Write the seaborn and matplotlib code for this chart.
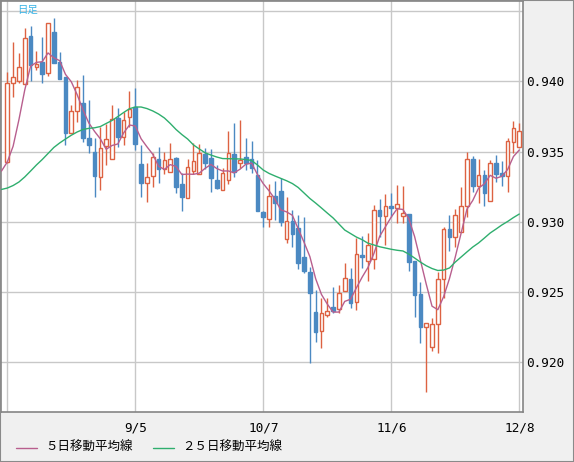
import numpy as np
import pandas as pd
import matplotlib
matplotlib.use("Agg")
import matplotlib.pyplot as plt
import seaborn as sns
from matplotlib.lines import Line2D
from matplotlib.patches import Rectangle

# ---------------- data ----------------
opens = [0.93428, 0.93986, 0.94004, 0.93981, 0.94323, 0.94104, 0.94135, 0.94057, 0.94349, 0.94135,
         0.94033, 0.93632, 0.93791, 0.93843, 0.93598, 0.93499, 0.93321, 0.93542, 0.93449, 0.93737,
         0.93606, 0.93744, 0.93815, 0.93411, 0.93274, 0.93326, 0.93445, 0.93374, 0.93352, 0.93452,
         0.93269, 0.93171, 0.93364, 0.93338, 0.93485, 0.93454, 0.93297, 0.93223, 0.93297, 0.93482,
         0.93415, 0.93459, 0.93445, 0.93333, 0.93072, 0.93017, 0.93183, 0.93221, 0.92875, 0.93007,
         0.92954, 0.92747, 0.92642, 0.92355, 0.92222, 0.92334, 0.92393, 0.92381, 0.92509, 0.92590,
         0.92426, 0.92760, 0.92723, 0.92733, 0.93084, 0.93043, 0.93112, 0.93096, 0.93041, 0.93055,
         0.92723, 0.92485, 0.92253, 0.92106, 0.92270, 0.92590, 0.92947, 0.92894, 0.92929, 0.93114,
         0.93447, 0.93257, 0.93333, 0.93150, 0.93421, 0.93349, 0.93328, 0.93570, 0.93534]
highs = [0.94068, 0.94278, 0.94199, 0.94377, 0.94396, 0.94218, 0.94313, 0.94415, 0.94449, 0.94211,
         0.94033, 0.93831, 0.94009, 0.94045, 0.93867, 0.93596, 0.93677, 0.93696, 0.93831, 0.93808,
         0.93782, 0.93931, 0.93950, 0.93547, 0.93416, 0.93487, 0.93535, 0.93499, 0.93563, 0.93463,
         0.93347, 0.93445, 0.93559, 0.93554, 0.93523, 0.93518, 0.93404, 0.93383, 0.93646, 0.93705,
         0.93724, 0.93596, 0.93578, 0.93440, 0.93076, 0.93269, 0.93292, 0.93309, 0.93174, 0.93084,
         0.93048, 0.93036, 0.92680, 0.92514, 0.92455, 0.92455, 0.92538, 0.92550, 0.92704, 0.92669,
         0.92886, 0.92899, 0.92922, 0.93119, 0.93160, 0.93198, 0.93203, 0.93262, 0.93255, 0.93055,
         0.92723, 0.92573, 0.92277, 0.92312, 0.92644, 0.92961, 0.93048, 0.93091, 0.93245, 0.93499,
         0.93468, 0.93445, 0.93369, 0.93440, 0.93478, 0.93433, 0.93594, 0.93719, 0.93705]
lows = [0.93420, 0.93890, 0.93986, 0.93981, 0.94004, 0.94080, 0.93990, 0.94040, 0.94132, 0.94016,
        0.93547, 0.93632, 0.93712, 0.93570, 0.93492, 0.93178, 0.93226, 0.93404, 0.93449, 0.93534,
        0.93547, 0.93677, 0.93511, 0.93174, 0.93143, 0.93250, 0.93274, 0.93338, 0.93352, 0.93202,
        0.93078, 0.93171, 0.93338, 0.93338, 0.93376, 0.93215, 0.93231, 0.93223, 0.93269, 0.93316,
        0.93383, 0.93372, 0.93345, 0.93079, 0.92961, 0.92961, 0.93012, 0.92970, 0.92851, 0.92822,
        0.92662, 0.92633, 0.91994, 0.92146, 0.92099, 0.92322, 0.92353, 0.92348, 0.92509, 0.92388,
        0.92372, 0.92671, 0.92580, 0.92664, 0.92894, 0.92834, 0.93036, 0.92989, 0.92993, 0.92652,
        0.92324, 0.92139, 0.91789, 0.92082, 0.92067, 0.92455, 0.92795, 0.92822, 0.92929, 0.93032,
        0.93210, 0.93136, 0.93114, 0.93150, 0.93285, 0.93257, 0.93210, 0.93487, 0.93534]
closes = [0.93986, 0.94029, 0.94100, 0.94306, 0.94116, 0.94123, 0.94052, 0.94413, 0.94132, 0.94016,
          0.93634, 0.93789, 0.93957, 0.93594, 0.93547, 0.93329, 0.93523, 0.93587, 0.93729, 0.93601,
          0.93724, 0.93803, 0.93552, 0.93274, 0.93316, 0.93459, 0.93374, 0.93440, 0.93445, 0.93250,
          0.93173, 0.93388, 0.93433, 0.93487, 0.93421, 0.93311, 0.93243, 0.93346, 0.93487, 0.93355,
          0.93440, 0.93421, 0.93383, 0.93079, 0.93032, 0.93183, 0.93131, 0.92999, 0.93007, 0.92910,
          0.92704, 0.92652, 0.92490, 0.92217, 0.92348, 0.92362, 0.92367, 0.92491, 0.92597, 0.92424,
          0.92768, 0.92751, 0.92835, 0.93084, 0.93043, 0.93112, 0.93096, 0.93127, 0.93060, 0.92716,
          0.92479, 0.92253, 0.92277, 0.92270, 0.92590, 0.92947, 0.92894, 0.93046, 0.93114, 0.93445,
          0.93257, 0.93333, 0.93202, 0.93416, 0.93340, 0.93328, 0.93575, 0.93665, 0.93646]

# 5-day MA values at the left edge (index -1..3), where earlier closes are off-chart
ma5_lead = [0.93361, 0.93426, 0.93538, 0.93727, 0.93938]
# 25-day MA, index -1..88
ma25_values = [0.93230, 0.93240, 0.93258, 0.93283, 0.93319, 0.93361, 0.93404, 0.93443, 0.93486, 0.93529,
               0.93561, 0.93589, 0.93616, 0.93639, 0.93657, 0.93665, 0.93669, 0.93678, 0.93700, 0.93721,
               0.93749, 0.93778, 0.93805, 0.93817, 0.93817, 0.93806, 0.93789, 0.93767, 0.93739, 0.93700,
               0.93657, 0.93621, 0.93589, 0.93547, 0.93518, 0.93491, 0.93475, 0.93461, 0.93450, 0.93449,
               0.93448, 0.93447, 0.93443, 0.93436, 0.93404, 0.93368, 0.93344, 0.93326, 0.93309, 0.93292,
               0.93272, 0.93244, 0.93205, 0.93166, 0.93133, 0.93098, 0.93062, 0.93027, 0.92984, 0.92941,
               0.92916, 0.92891, 0.92872, 0.92847, 0.92835, 0.92822, 0.92813, 0.92804, 0.92797, 0.92792,
               0.92770, 0.92742, 0.92713, 0.92687, 0.92667, 0.92653, 0.92656, 0.92671, 0.92713, 0.92749,
               0.92785, 0.92820, 0.92849, 0.92884, 0.92920, 0.92948, 0.92977, 0.93002, 0.93030, 0.93055]

x_tick_pos = [0, 22, 44, 66, 88]
x_tick_labels = ["", "9/5", "10/7", "11/6", "12/8"]
y_ticks = [0.920, 0.925, 0.930, 0.935, 0.940, 0.945]
y_tick_labels = ["0.920", "0.925", "0.930", "0.935", "0.940", ""]
legend_labels = ["５日移動平均線", "２５日移動平均線"]
title_label = "日足"

# ---------------- styling ----------------
UP = "#dd6242"
DOWN = "#4b89c2"
MA5_C = "#b85f8e"
MA25_C = "#2fae6e"
GRID_C = "#c8c8c8"

sns.set_style("white")
plt.rcParams["font.family"] = ["DejaVu Sans Mono", "Noto Sans CJK JP"]

W, H = 574, 462
fig = plt.figure(figsize=(W / 100, H / 100), dpi=100, facecolor="#f0f0f0")
ax = fig.add_axes([1 / W, (H - 412) / H, 522 / W, 411 / H])
ax.set_facecolor("white")

n = len(closes)
idx = np.arange(n)
df = pd.DataFrame({"i": idx, "open": opens, "high": highs, "low": lows, "close": closes})

# moving averages
ma5 = df["close"].rolling(5).mean().to_numpy()
ma5[:4] = ma5_lead[1:]
ma_idx = np.arange(-1, n)
ma5_full = np.concatenate([[ma5_lead[0]], ma5])
ma_df = pd.DataFrame({"i": ma_idx, "ma5": ma5_full, "ma25": ma25_values})

# wicks
up = df["close"] >= df["open"]
wick_colors = [UP if u else DOWN for u in up]
ax.vlines(df["i"], df["low"], df["high"], colors=wick_colors, linewidth=1.0, zorder=2)

# bodies
body_bottom = np.minimum(df["open"], df["close"])
body_h = np.maximum(np.abs(df["close"] - df["open"]), 0.00003)
face = ["white" if u else DOWN for u in up]
ax.bar(df["i"], body_h, bottom=body_bottom, width=0.62, color=face,
       edgecolor=wick_colors, linewidth=1.0, zorder=3)

# MA lines
sns.lineplot(data=ma_df, x="i", y="ma5", ax=ax, color=MA5_C, linewidth=1.0, zorder=4, legend=False)
sns.lineplot(data=ma_df, x="i", y="ma25", ax=ax, color=MA25_C, linewidth=1.0, zorder=4, legend=False)

# axes
ax.set_xlim((1 - 7.3) / 5.818, (523 - 7.3) / 5.818)
ax.set_ylim(0.945789 - 0.0000712 * 412, 0.945789 - 0.0000712 * 1)
ax.set_xticks(x_tick_pos)
ax.set_xticklabels(x_tick_labels)
ax.set_yticks(y_ticks)
ax.set_yticklabels(y_tick_labels)
ax.yaxis.tick_right()
ax.tick_params(axis="y", length=0, pad=2.2, labelsize=9.2, colors="black")
ax.tick_params(axis="x", length=0, pad=6.5, labelsize=9.2, colors="black")
ax.set_xlabel("")
ax.set_ylabel("")
ax.grid(True, color=GRID_C, linewidth=1.0)
ax.set_axisbelow(True)
for s in ax.spines.values():
    s.set_color("#858585")
    s.set_linewidth(1.2)

# top-left label
fig.text(17 / W, 1 - 10 / H, title_label, color="#3ab4e6", fontsize=7.5,
         family=["Noto Sans CJK JP"], va="center", ha="left")

# legend
ly = 1 - 447.5 / H
fig.add_artist(Line2D([16 / W, 37 / W], [ly, ly], color=MA5_C, linewidth=1.0))
fig.text(45 / W, ly, legend_labels[0], fontsize=9, family=["Noto Sans CJK JP"],
         va="center", ha="left", color="black")
fig.add_artist(Line2D([153 / W, 174 / W], [ly, ly], color=MA25_C, linewidth=1.0))
fig.text(182 / W, ly, legend_labels[1], fontsize=9, family=["Noto Sans CJK JP"],
         va="center", ha="left", color="black")

# outer frame
fig.patches.append(Rectangle((0, 0), 1, 1, transform=fig.transFigure, fill=False,
                             edgecolor="#8a8a8a", linewidth=1.5))

fig.savefig("out.png", dpi=100, facecolor=fig.get_facecolor())
